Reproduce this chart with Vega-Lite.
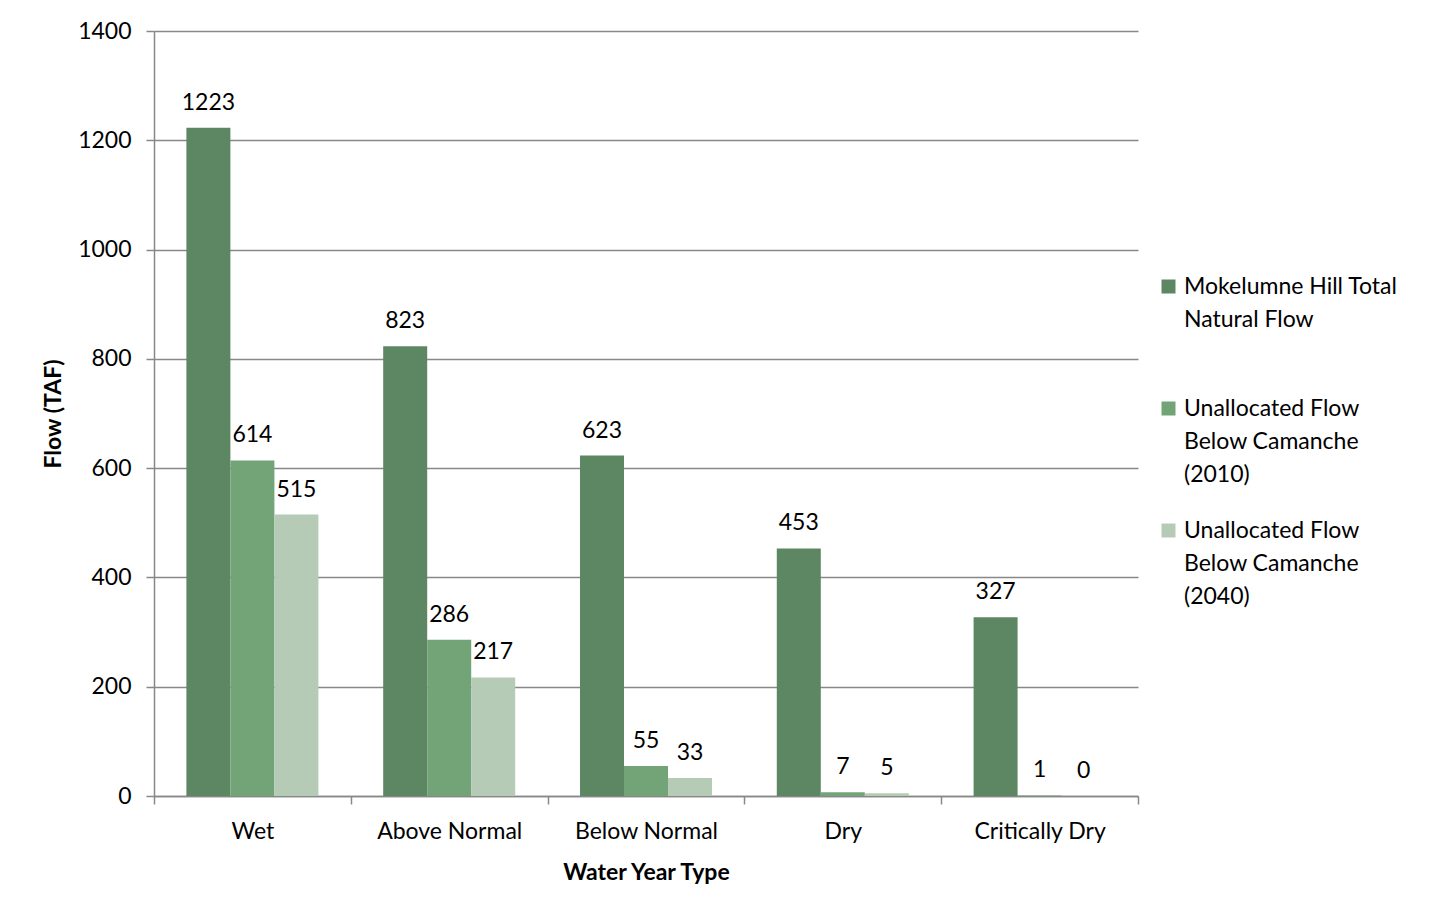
{
  "$schema": "https://vega.github.io/schema/vega-lite/v6.json",
  "width": 984,
  "height": 765,
  "autosize": {"type": "none"},
  "padding": {"left": 154, "top": 31, "right": 297, "bottom": 121},
  "background": "white",
  "config": {
    "font": "Lato",
    "view": {"stroke": null},
    "axis": {"labelColor": "black", "titleColor": "black", "labelFont": "Lato", "titleFont": "Lato"}
  },
  "data": {
    "values": [
      {"type": "Wet", "series": "Mokelumne Hill Total Natural Flow", "value": 1223},
      {"type": "Wet", "series": "Unallocated Flow Below Camanche (2010)", "value": 614},
      {"type": "Wet", "series": "Unallocated Flow Below Camanche (2040)", "value": 515},
      {"type": "Above Normal", "series": "Mokelumne Hill Total Natural Flow", "value": 823},
      {"type": "Above Normal", "series": "Unallocated Flow Below Camanche (2010)", "value": 286},
      {"type": "Above Normal", "series": "Unallocated Flow Below Camanche (2040)", "value": 217},
      {"type": "Below Normal", "series": "Mokelumne Hill Total Natural Flow", "value": 623},
      {"type": "Below Normal", "series": "Unallocated Flow Below Camanche (2010)", "value": 55},
      {"type": "Below Normal", "series": "Unallocated Flow Below Camanche (2040)", "value": 33},
      {"type": "Dry", "series": "Mokelumne Hill Total Natural Flow", "value": 453},
      {"type": "Dry", "series": "Unallocated Flow Below Camanche (2010)", "value": 7},
      {"type": "Dry", "series": "Unallocated Flow Below Camanche (2040)", "value": 5},
      {"type": "Critically Dry", "series": "Mokelumne Hill Total Natural Flow", "value": 327},
      {"type": "Critically Dry", "series": "Unallocated Flow Below Camanche (2010)", "value": 1},
      {"type": "Critically Dry", "series": "Unallocated Flow Below Camanche (2040)", "value": 0}
    ]
  },
  "encoding": {
    "x": {
      "field": "type", "type": "nominal",
      "sort": ["Wet", "Above Normal", "Below Normal", "Dry", "Critically Dry"],
      "scale": {"paddingInner": 0, "paddingOuter": 0},
      "axis": {
        "title": "Water Year Type", "titleFontSize": 23, "titleFontWeight": "bold", "titlePadding": 18,
        "labelAngle": 0, "labelFontSize": 23, "labelPadding": 16,
        "tickBand": "extent", "tickSize": 8, "tickColor": "#888888", "domainColor": "#888888", "domainWidth": 1.5, "tickWidth": 1.5
      }
    },
    "xOffset": {
      "field": "series", "type": "nominal",
      "sort": ["Mokelumne Hill Total Natural Flow", "Unallocated Flow Below Camanche (2010)", "Unallocated Flow Below Camanche (2040)"],
      "scale": {"paddingInner": 0, "paddingOuter": 0.736}
    },
    "y": {
      "field": "value", "type": "quantitative",
      "scale": {"domain": [0, 1400], "nice": false},
      "axis": {
        "title": "Flow (TAF)", "titleFontSize": 23, "titleFontWeight": "bold", "titlePadding": 12,
        "values": [0, 200, 400, 600, 800, 1000, 1200, 1400], "format": "d",
        "labelFontSize": 23, "labelPadding": 15, "tickSize": 8, "tickColor": "#888888",
        "domainColor": "#888888", "domainWidth": 1.5, "tickWidth": 1.5,
        "grid": true, "gridColor": "#888888", "gridWidth": 1.5
      }
    }
  },
  "layer": [
    {
      "mark": {"type": "bar"},
      "encoding": {
        "color": {
          "field": "series", "type": "nominal",
          "sort": ["Mokelumne Hill Total Natural Flow", "Unallocated Flow Below Camanche (2010)", "Unallocated Flow Below Camanche (2040)"],
          "scale": {"range": ["#5D8762", "#72A478", "#B5CBB6"]},
          "legend": {
            "title": null, "orient": "none", "legendX": 1003, "legendY": 244,
            "symbolType": "square", "symbolSize": 196, "symbolStrokeWidth": 0, "symbolOpacity": 1,
            "labelFontSize": 23, "labelFont": "Lato", "labelColor": "black",
            "labelLimit": 300, "labelOffset": 4, "rowPadding": 32,
            "labelExpr": "datum.label == 'Mokelumne Hill Total Natural Flow' ? ['Mokelumne Hill Total', 'Natural Flow', ''] : datum.label == 'Unallocated Flow Below Camanche (2010)' ? ['Unallocated Flow', 'Below Camanche', '(2010)'] : ['Unallocated Flow', 'Below Camanche', '(2040)']",
            "encode": {"labels": {"update": {"lineHeight": {"value": 33}}}}
          }
        }
      }
    },
    {
      "mark": {"type": "text", "baseline": "bottom", "dy": -13, "fontSize": 23, "font": "Lato", "color": "black"},
      "encoding": {"text": {"field": "value", "type": "quantitative"}}
    }
  ]
}
